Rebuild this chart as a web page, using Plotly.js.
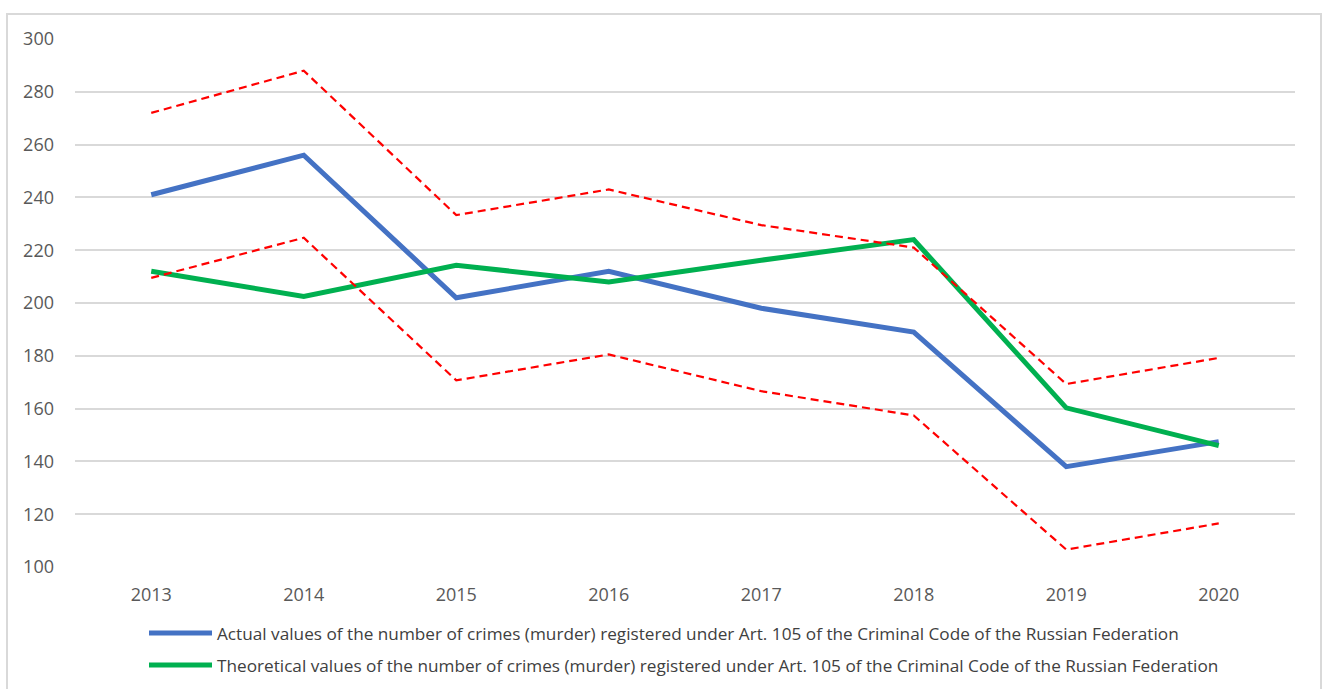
<!DOCTYPE html>
<html>
<head>
<meta charset="utf-8">
<script src="https://cdn.plot.ly/plotly-3.0.1.min.js"></script>
<style>
  html, body { margin: 0; padding: 0; background: #ffffff; }
  #frame {
    position: absolute; left: 6px; top: 13px; width: 1316px; height: 700px;
    border: 2px solid #d9d9d9; box-sizing: border-box;
  }
  #chart { position: absolute; left: 0; top: 0; width: 1325px; height: 689px; }
</style>
</head>
<body>
<div id="frame"></div>
<div id="chart"></div>
<script>
// Murders registered under Art. 105 of the Criminal Code, 2013–2020
const years = ['2013', '2014', '2015', '2016', '2017', '2018', '2019', '2020'];
const actual = [241, 256, 202, 212, 198, 189, 138, 147.5];
const theoretical = [212, 202.5, 214.3, 208, 216.2, 224, 160.3, 146];
const upperBound = [272, 288, 233.3, 243, 229.5, 221, 169.3, 179.2];
const lowerBound = [209.5, 224.7, 170.7, 180.5, 166.6, 157.4, 106.6, 116.5];
const yTicks = [100, 120, 140, 160, 180, 200, 220, 240, 260, 280, 300];

const legendLabels = [
  'Actual values of the number of crimes (murder) registered under Art. 105 of the Criminal Code of the Russian Federation',
  'Theoretical values of the number of crimes (murder) registered under Art. 105 of the Criminal Code of the Russian Federation'
];

const BLUE = '#4472c4';
const GREEN = '#00b050';
const RED = '#ff0000';

const W = 1325, H = 689;
const M = { l: 75, r: 30, t: 39, b: 122 };
const plotW = W - M.l - M.r;
const plotH = H - M.t - M.b;
const px = x => (x - M.l) / plotW;
const py = y => (H - M.b - y) / plotH;

const traces = [
  { x: years, y: actual, type: 'scatter', mode: 'lines', name: legendLabels[0],
    line: { color: BLUE, width: 5 } },
  { x: years, y: theoretical, type: 'scatter', mode: 'lines', name: legendLabels[1],
    line: { color: GREEN, width: 5 } },
  { x: years, y: upperBound, type: 'scatter', mode: 'lines', name: 'Upper bound',
    line: { color: RED, width: 2.2, dash: '8px,5px' } },
  { x: years, y: lowerBound, type: 'scatter', mode: 'lines', name: 'Lower bound',
    line: { color: RED, width: 2.2, dash: '8px,5px' } }
];

const legendRows = [
  { label: legendLabels[0], color: BLUE, y: 633 },
  { label: legendLabels[1], color: GREEN, y: 665 }
];

const shapes = legendRows.map(r => ({
  type: 'line', xref: 'paper', yref: 'paper',
  x0: px(149), x1: px(212), y0: py(r.y), y1: py(r.y),
  line: { color: r.color, width: 5 }
}));

const annotations = legendRows.map(r => ({
  xref: 'paper', yref: 'paper', x: px(215), y: py(r.y),
  xanchor: 'left', yanchor: 'middle', showarrow: false,
  text: r.label,
  font: { family: 'Open Sans, sans-serif', size: 17.2, color: '#404040' }
}));

const tickFont = { family: 'Open Sans, sans-serif', size: 18, color: '#595959' };

const layout = {
  width: W, height: H,
  margin: M,
  paper_bgcolor: 'rgba(0,0,0,0)',
  plot_bgcolor: 'rgba(0,0,0,0)',
  showlegend: false,
  xaxis: {
    type: 'category',
    range: [-0.5, years.length - 0.5],
    showgrid: false, zeroline: false, showline: false,
    ticks: '', ticklabelstandoff: 15,
    tickfont: tickFont
  },
  yaxis: {
    range: [100, 300],
    tickvals: yTicks,
    showgrid: true, gridcolor: '#d9d9d9', gridwidth: 2,
    zeroline: false, showline: false,
    ticks: '', ticklabelstandoff: 20,
    tickfont: tickFont
  },
  shapes: shapes,
  annotations: annotations
};

Plotly.newPlot('chart', traces, layout, { displayModeBar: false, staticPlot: true });
</script>
</body>
</html>
